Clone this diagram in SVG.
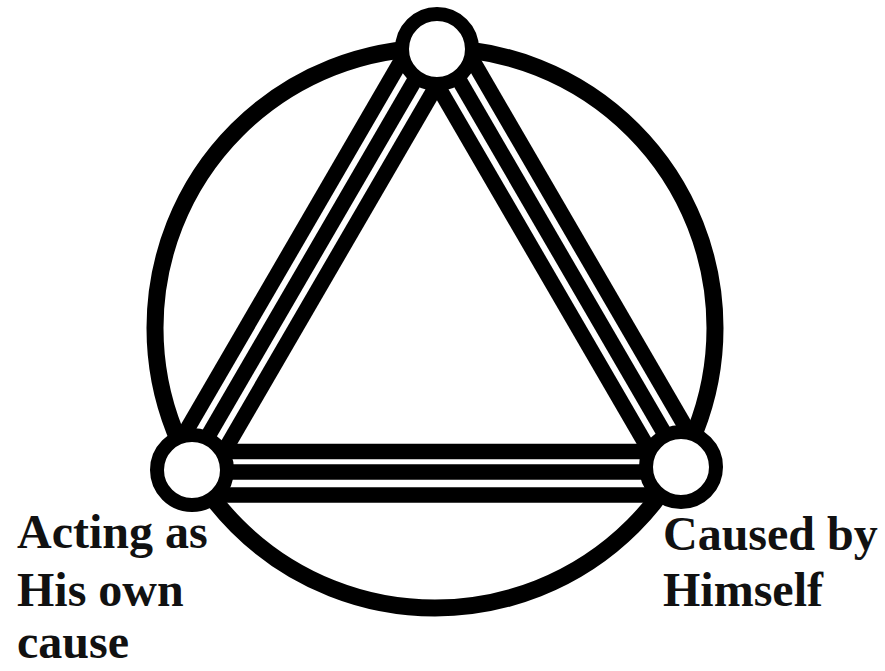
<svg xmlns="http://www.w3.org/2000/svg" width="885" height="671" viewBox="0 0 885 671">
  <style>
    .ring { fill: none; stroke: #000; stroke-width: 17; }
    .band { stroke: #000; stroke-width: 15.5; fill: none; }
    .node { fill: #fff; stroke: #000; stroke-width: 14; }
    .label { font-family: "Liberation Serif", "Times New Roman", serif; font-weight: bold; font-size: 48px; fill: #111; }
  </style>
  <rect width="885" height="671" fill="#fff"/>
  <g id="outer-circle">
    <circle class="ring" cx="435" cy="328" r="280"/>
  </g>
  <g id="connectors">
    <!-- left band: BL to top -->
    <line class="band" x1="167.4" y1="463.2" x2="418.4" y2="31.2"/>
    <line class="band" x1="186" y1="474" x2="437" y2="42"/>
    <line class="band" x1="204.6" y1="484.8" x2="455.6" y2="52.8"/>
    <!-- right band: top to BR -->
    <line class="band" x1="455.6" y1="31.2" x2="706.6" y2="463.2"/>
    <line class="band" x1="437" y1="42" x2="688" y2="474"/>
    <line class="band" x1="418.4" y1="52.8" x2="669.4" y2="484.8"/>
    <!-- bottom band -->
    <line class="band" x1="186" y1="451.5" x2="688" y2="451.5"/>
    <line class="band" x1="186" y1="472" x2="688" y2="472"/>
    <line class="band" x1="186" y1="495" x2="688" y2="495"/>
  </g>
  <g id="node-top">
    <circle class="node" cx="437" cy="49" r="35"/>
  </g>
  <g id="node-left">
    <circle class="node" cx="192" cy="470" r="35"/>
    <text class="label" x="17" y="548">Acting as</text>
    <text class="label" x="17" y="606">His own</text>
    <text class="label" x="17" y="658">cause</text>
  </g>
  <g id="node-right">
    <circle class="node" cx="681" cy="467" r="35"/>
    <text class="label" x="663" y="550">Caused by</text>
    <text class="label" x="663" y="606">Himself</text>
  </g>
</svg>
